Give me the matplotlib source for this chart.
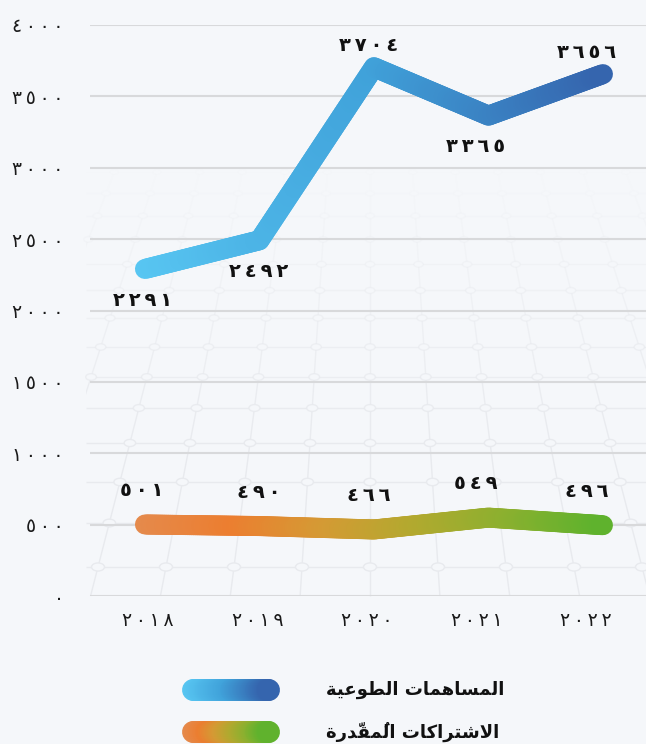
import matplotlib
matplotlib.use("Agg")
import matplotlib.pyplot as plt
import numpy as np
from matplotlib.collections import LineCollection
from matplotlib.colors import LinearSegmentedColormap, to_rgba
from matplotlib.patches import Ellipse, Rectangle
from matplotlib.ticker import FuncFormatter

years = [2018, 2019, 2020, 2021, 2022]
voluntary = [2291, 2492, 3704, 3365, 3656]
assessed = [501, 490, 466, 549, 496]
series_names = ["المساهمات الطوعية", "الاشتراكات المُقدّرة"]
y_ticks = list(range(0, 4001, 500))

blue_colors = ["#58c6f2", "#40a2da", "#3565ae"]
orange_colors = ["#e58a4c", "#ec7e30", "#d59a34", "#b3a92f", "#8cb02f", "#5fb22d"]
label_dx = [-2, -0.5, -3.6, -9.4, -11.5]  # small horizontal nudges of value labels (pt)

AR_DIGITS = "٠١٢٣٤٥٦٧٨٩"
THIN = "\u2009"


def ar_num(n, sep=THIN):
    return sep.join(AR_DIGITS[int(c)] for c in str(n))


# minimal arabic shaping (matplotlib has no complex text layout)
FORMS = {
    "ا": ("\ufe8d", "\ufe8e", None, None),
    "ل": ("\ufedd", "\ufede", "\ufedf", "\ufee0"),
    "م": ("\ufee1", "\ufee2", "\ufee3", "\ufee4"),
    "س": ("\ufeb1", "\ufeb2", "\ufeb3", "\ufeb4"),
    "ه": ("\ufee9", "\ufeea", "\ufeeb", "\ufeec"),
    "ت": ("\ufe95", "\ufe96", "\ufe97", "\ufe98"),
    "ط": ("\ufec1", "\ufec2", "\ufec3", "\ufec4"),
    "و": ("\ufeed", "\ufeee", None, None),
    "ع": ("\ufec9", "\ufeca", "\ufecb", "\ufecc"),
    "ي": ("\ufef1", "\ufef2", "\ufef3", "\ufef4"),
    "ة": ("\ufe93", "\ufe94", None, None),
    "ش": ("\ufeb5", "\ufeb6", "\ufeb7", "\ufeb8"),
    "ر": ("\ufead", "\ufeae", None, None),
    "ك": ("\ufed9", "\ufeda", "\ufedb", "\ufedc"),
    "ق": ("\ufed5", "\ufed6", "\ufed7", "\ufed8"),
    "د": ("\ufea9", "\ufeaa", None, None),
    "لا": ("\ufefb", "\ufefc", None, None),
}
MARKS = set(chr(c) for c in range(0x064B, 0x0653))


def shape(text):
    tokens = []
    for ch in text:
        if ch in MARKS and tokens:
            tokens[-1][1] += ch
        else:
            tokens.append([ch, ""])
    merged = []
    i = 0
    while i < len(tokens):
        b, m = tokens[i]
        if b == "ل" and i + 1 < len(tokens) and tokens[i + 1][0] == "ا":
            merged.append(["لا", m + tokens[i + 1][1]])
            i += 2
        else:
            merged.append([b, m])
            i += 1
    out = []
    for i, (b, m) in enumerate(merged):
        if b not in FORMS:
            out.append(b + m)
            continue
        iso, fin, ini, med = FORMS[b]
        prev = merged[i - 1][0] if i > 0 else None
        nxt = merged[i + 1][0] if i + 1 < len(merged) else None
        jp = prev in FORMS and FORMS[prev][2] is not None
        jn = ini is not None and nxt in FORMS
        if jp and jn:
            g = med
        elif jp:
            g = fin
        elif jn:
            g = ini
        else:
            g = iso
        out.append(g + m)
    return "".join(reversed(out))


def gradient_line(ax, xs, ys, colors, lw, steps=60):
    cmap = LinearSegmentedColormap.from_list("g", colors)
    xs = np.asarray(xs, float)
    ys = np.asarray(ys, float)
    t = np.linspace(0, 1, steps)[1:]
    px, py = [xs[0]], [ys[0]]
    for i in range(len(xs) - 1):
        px.extend(xs[i] + (xs[i + 1] - xs[i]) * t)
        py.extend(ys[i] + (ys[i + 1] - ys[i]) * t)
    pts = np.column_stack([px, py])
    segs = np.stack([pts[:-1], pts[1:]], axis=1)
    mid = segs[:, :, 0].mean(axis=1)
    frac = (mid - xs.min()) / (xs.max() - xs.min())
    lc = LineCollection(segs, colors=cmap(frac), linewidths=lw,
                        capstyle="round", joinstyle="round",
                        clip_on=False, zorder=3)
    ax.add_collection(lc)


plt.rcParams['font.family'] = ['DejaVu Sans']
bg = "#f5f7fa"
fig = plt.figure(figsize=(6.46, 7.44), dpi=100, facecolor=bg)

# background axes in pixel units: faint perspective floor + legend
back = fig.add_axes([0, 0, 1, 1], zorder=0)
back.set_xlim(0, 646)
back.set_ylim(744, 0)
back.axis("off")

clip = Rectangle((86, 0), 560, 597, transform=back.transData)
vx, vy = 370, -491
rows = [567, 523, 482, 443, 408, 377, 347, 318]
gap = 29.0
while rows[-1] > 150:
    gap *= 0.95
    rows.append(rows[-1] - gap)
pat = to_rgba("#e8eaee")


def fade(y):
    return float(np.clip((y - 170) / 280, 0, 1))


hsegs, hcols = [], []
for r in rows:
    hsegs.append([(86, r), (646, r)])
    hcols.append((*pat[:3], fade(r)))
vsegs, vcols = [], []
ys_v = [596] + rows
for k in range(-9, 7):
    for y0, y1 in zip(ys_v[:-1], ys_v[1:]):
        xa = vx + 68 * k * (y0 - vy) / (567 - vy)
        xb = vx + 68 * k * (y1 - vy) / (567 - vy)
        vsegs.append([(xa, y0), (xb, y1)])
        vcols.append((*pat[:3], fade((y0 + y1) / 2)))
for segs, cols in [(hsegs, hcols), (vsegs, vcols)]:
    lc = LineCollection(segs, colors=cols, linewidths=1.0, zorder=0)
    back.add_collection(lc)
    lc.set_clip_path(clip)
for r in rows:
    w = 13 * (r - vy) / (567 - vy)
    for k in range(-9, 7):
        cx = vx + 68 * k * (r - vy) / (567 - vy)
        if 86 < cx < 646:
            e = Ellipse((cx, r), w, w * 0.62, facecolor=bg,
                        edgecolor=(*pat[:3], fade(r)), lw=1.0, zorder=1)
            back.add_patch(e)

ax = fig.add_axes([90 / 646, 148 / 744, 556 / 646, 571 / 744], zorder=1)
ax.set_facecolor("none")
x = np.arange(len(years))
ax.set_xlim(-0.48, 4.376)
ax.set_ylim(0, 4000)
ax.set_yticks(y_ticks)
ax.yaxis.set_major_formatter(FuncFormatter(lambda v, p: ar_num(int(v))))
ax.set_xticks(x * 0.956 + 0.026)
ax.set_xticklabels([ar_num(y) for y in years])
ax.grid(axis="y", color="#d8d9db", lw=1.5)
ax.set_axisbelow(True)
for s in ax.spines.values():
    s.set_visible(False)
ax.tick_params(axis="y", length=0, pad=19, labelsize=13.5, labelcolor="#1a1a1a")
ax.tick_params(axis="x", length=0, pad=11, labelsize=13.5, labelcolor="#1a1a1a")

gradient_line(ax, x, voluntary, blue_colors, 14.4)
gradient_line(ax, x, assessed, orange_colors, 14.4)

for i, v in enumerate(voluntary):
    dy = 15.5 if i in (2, 4) else -22.5
    ax.annotate(ar_num(v), (x[i], v), xytext=(label_dx[i], dy), textcoords="offset points",
                ha="center", va="center", fontsize=14, fontweight="bold", color="#111111")
for i, v in enumerate(assessed):
    ax.annotate(ar_num(v), (x[i], v), xytext=(label_dx[i], 24.5), textcoords="offset points",
                ha="center", va="center", fontsize=14, fontweight="bold", color="#111111")

# legend
for name, cols, yy in zip(series_names, [blue_colors, orange_colors], [690, 732]):
    gradient_line(back, [193, 269], [yy, yy], cols, 15.8, steps=80)
    back.text(326, yy, shape(name), ha="left", va="center", fontsize=13,
              fontweight="bold", color="#111111")

fig.savefig("out.png", dpi=100, facecolor=bg)
